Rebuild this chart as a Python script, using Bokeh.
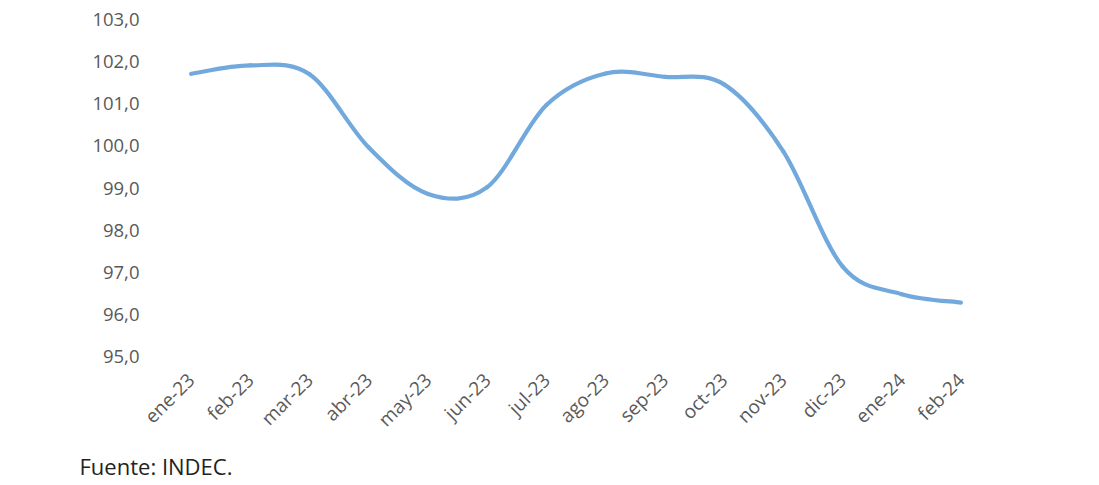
import math
from bokeh.plotting import figure
from bokeh.models import Range1d, FixedTicker, Title, ColumnDataSource
from bokeh.embed import file_html
from bokeh.resources import INLINE

months = ["ene-23", "feb-23", "mar-23", "abr-23", "may-23", "jun-23", "jul-23",
          "ago-23", "sep-23", "oct-23", "nov-23", "dic-23", "ene-24", "feb-24"]
values = [101.71, 101.91, 101.70, 99.96, 98.86, 99.02, 100.97,
          101.72, 101.64, 101.46, 99.87, 97.14, 96.48, 96.28]
y_ticks = [95, 96, 97, 98, 99, 100, 101, 102, 103]
source_note = "Fuente: INDEC."

xs = list(range(len(months)))

# Catmull-Rom -> cubic Bezier control points (smoothed line like the original)
x0, y0, x1, y1, cx0, cy0, cx1, cy1 = ([] for _ in range(8))
n = len(xs)
for i in range(n - 1):
    pm = (xs[max(i - 1, 0)], values[max(i - 1, 0)])
    p0 = (xs[i], values[i])
    p1 = (xs[i + 1], values[i + 1])
    pp = (xs[min(i + 2, n - 1)], values[min(i + 2, n - 1)])
    x0.append(p0[0]); y0.append(p0[1])
    x1.append(p1[0]); y1.append(p1[1])
    cx0.append(p0[0] + (p1[0] - pm[0]) / 6); cy0.append(p0[1] + (p1[1] - pm[1]) / 6)
    cx1.append(p1[0] - (pp[0] - p0[0]) / 6); cy1.append(p1[1] - (pp[1] - p0[1]) / 6)

src = ColumnDataSource(dict(x0=x0, y0=y0, x1=x1, y1=y1, cx0=cx0, cy0=cy0, cx1=cx1, cy1=cy1))

p = figure(width=1091, height=485, output_backend="svg", toolbar_location=None,
           x_range=Range1d(-0.5, n - 0.5), y_range=Range1d(95, 103),
           min_border_left=161, min_border_right=101, min_border_top=19, min_border_bottom=100)
p.outline_line_color = None
p.grid.visible = False
p.background_fill_color = "white"
p.border_fill_color = "white"

p.bezier(x0="x0", y0="y0", x1="x1", y1="y1", cx0="cx0", cy0="cy0", cx1="cx1", cy1="cy1",
         source=src, line_color="#72a9dc", line_width=4.2, line_cap="round")

ya = p.yaxis[0]
ya.ticker = FixedTicker(ticks=y_ticks)
ya.major_label_overrides = {t: f"{t:.1f}".replace(".", ",") for t in y_ticks}
ya.axis_line_color = None
ya.major_tick_line_color = None
ya.minor_tick_line_color = None
ya.major_label_standoff = 16
ya.major_label_text_font = "Open Sans"
ya.major_label_text_font_size = "18.5px"
ya.major_label_text_color = "#595959"

xa = p.xaxis[0]
xa.ticker = FixedTicker(ticks=xs)
xa.major_label_overrides = {i: m for i, m in zip(xs, months)}
xa.major_label_orientation = math.pi / 4
xa.axis_line_color = None
xa.major_tick_line_color = None
xa.minor_tick_line_color = None
xa.major_label_standoff = 14
xa.major_label_text_font = "Open Sans"
xa.major_label_text_font_size = "19px"
xa.major_label_text_color = "#595959"

p.add_layout(Title(text=source_note, align="left", offset=-82, standoff=9,
                   text_font="Open Sans", text_font_size="22px", text_color="#222222",
                   text_font_style="normal"), "below")

open("out.html", "w").write(file_html(p, INLINE))
